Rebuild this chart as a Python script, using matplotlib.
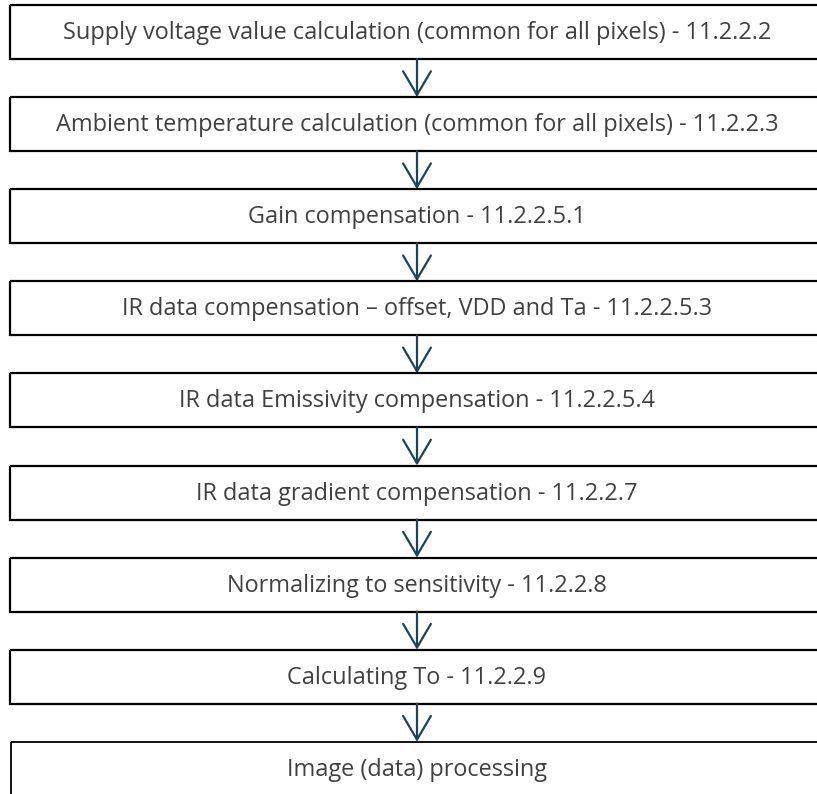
import matplotlib.pyplot as plt
from matplotlib.patches import Rectangle, FancyArrowPatch

steps = [
    "Supply voltage value calculation (common for all pixels) - 11.2.2.2",
    "Ambient temperature calculation (common for all pixels) - 11.2.2.3",
    "Gain compensation - 11.2.2.5.1",
    "IR data compensation \u2013 offset, VDD and Ta - 11.2.2.5.3",
    "IR data Emissivity compensation - 11.2.2.5.4",
    "IR data gradient compensation - 11.2.2.7",
    "Normalizing to sensitivity - 11.2.2.8",
    "Calculating To - 11.2.2.9",
    "Image (data) processing",
]

W, H = 817, 794
fig = plt.figure(figsize=(W / 100, H / 100), dpi=100)
ax = fig.add_axes([0, 0, 1, 1])
ax.set_xlim(0, W)
ax.set_ylim(H, 0)
ax.axis('off')

# layout (pixels)
top0 = 5
pitch = 92.1
box_h = 54
left = 10
right = 830
cx = 417
text_color = '#404040'
arrow_color = '#1b4457'

for i, label in enumerate(steps):
    top = top0 + i * pitch
    last = i == len(steps) - 1
    ax.add_patch(Rectangle((left + (1.5 if last else 0), top), right - left,
                           box_h, fill=False, edgecolor='black',
                           linewidth=1.6 if not last else 1.3, clip_on=True))
    ax.text(cx, top + box_h / 2 + 1, label, ha='center', va='center',
            fontsize=16.9, color=text_color, family='Open Sans')
    if not last:
        ax.add_patch(FancyArrowPatch((cx, top + box_h), (cx, top + pitch),
                                     arrowstyle='->,head_length=17,head_width=10',
                                     shrinkA=0, shrinkB=0, color=arrow_color,
                                     linewidth=1.6, mutation_scale=1))

fig.savefig('out.png', dpi=100)
